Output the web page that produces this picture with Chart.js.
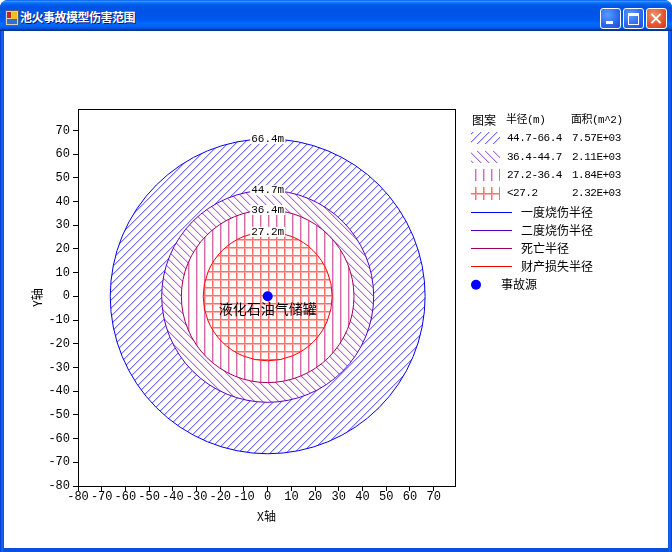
<!DOCTYPE html>
<html>
<head>
<meta charset="utf-8">
<script src="https://cdn.jsdelivr.net/npm/chart.js@4.4.1/dist/chart.umd.min.js"></script>
<style>
	body {margin:0; width:672px; height:552px; overflow:hidden; background:#fff; font-family:"Noto Sans CJK SC",sans-serif;}
	#win {position:absolute; left:0; top:0; width:672px; height:552px; background:linear-gradient(90deg,#0831d9,#166aee 2px,#0a4fe0 4px,#0a4fe0 668px,#166aee 670px,#0831d9); border-radius:8px 8px 0 0; overflow:hidden;}
	#bar {position:absolute; left:0; top:0; width:672px; height:31px; background:linear-gradient(#0058ee 0%,#3593ff 4%,#288eff 6%,#127dff 8%,#036ffc 10%,#0262ee 14%,#0057e5 20%,#0054e3 24%,#0055eb 56%,#005bf5 66%,#026afe 76%,#0062ef 86%,#0052d6 92%,#0040ab 94%,#003092 100%);}
	#title {position:absolute; left:20px; top:7px; color:#fff; font-weight:bold; font-size:12px; letter-spacing:-0.5px; line-height:20px; text-shadow:1px 1px #0a1883;}
	#icon {position:absolute; left:5px; top:10px; width:12px; height:14px; background:#d8d0b8; border:1px solid #506080;}
	#icon i {position:absolute; display:block;}
	.btn {position:absolute; top:8px; width:19px; height:19px; border:1px solid #fff; border-radius:3px; background:radial-gradient(circle at 35% 30%,#5a9cff,#2a66f0 60%,#1c4fd8);}
	.btn.x {background:radial-gradient(circle at 35% 30%,#f0906e,#e2532e 60%,#c73a18);}
	#client {position:absolute; left:4px; top:31px; width:664px; height:517px; background:#fff;}
</style>
</head>
<body>
<div id="win">
	<div id="bar">
		<div id="icon"><i style="left:1px;top:1px;width:4px;height:6px;background:#d02020"></i><i style="left:6px;top:1px;width:5px;height:7px;background:#f0c020"></i><i style="left:1px;top:8px;width:10px;height:5px;background:#3070d0"></i></div>
		<div id="title">池火事故模型伤害范围</div>
		<div class="btn" style="left:600px"><i style="position:absolute;left:5px;top:12px;width:7px;height:3px;background:#fff"></i></div>
		<div class="btn" style="left:623px"><i style="position:absolute;left:4px;top:4px;width:9px;height:8px;border:1px solid #fff;border-top-width:3px"></i></div>
		<div class="btn x" style="left:646px"><i style="position:absolute;left:8px;top:3px;width:2px;height:13px;background:#fff;transform:rotate(45deg)"></i><i style="position:absolute;left:8px;top:3px;width:2px;height:13px;background:#fff;transform:rotate(-45deg)"></i></div>
	</div>
	<div id="client"><canvas id="c" width="664" height="517"></canvas></div>
</div>
<script>
// damage radii (m), outer to inner
const radii = [66.4, 44.7, 36.4, 27.2]
const ranges = ['44.7-66.4', '36.4-44.7', '27.2-36.4', '<27.2']
const areas = ['7.57E+03', '2.11E+03', '1.84E+03', '2.32E+03']
const lineNames = ['一度烧伤半径', '二度烧伤半径', '死亡半径', '财产损失半径']
const xTicks = [-80, -70, -60, -50, -40, -30, -20, -10, 0, 10, 20, 30, 40, 50, 60, 70]
const yTicks = [-80, -70, -60, -50, -40, -30, -20, -10, 0, 10, 20, 30, 40, 50, 60, 70]
const source = [{x:0, y:0}]

const edge = ['#0000f0', '#5a00c0', '#a0005e', '#ff0000']
const mono = '"Liberation Mono","Noto Sans CJK SC",monospace'
const cjk = '"Noto Sans CJK SC",sans-serif'

// hatch tiles 8x8
const tile = f => { const c = document.createElement('canvas'); c.width = c.height = 8; f(c.getContext('2d')); return c }
const px = (g, col, pts) => { g.fillStyle = col; pts.forEach(([x, y]) => g.fillRect(x, y, 1, 1)) }
const tiles = [
	tile(g => { for (let i=0; i<8; i++) { px(g, '#c4c4ff', [[(i+1)%8, 7-i]]); px(g, '#7474f4', [[i, 7-i]]) } }),
	tile(g => { for (let i=0; i<8; i++) { px(g, '#e2c6f6', [[(i+1)%8, i]]); px(g, '#b070e0', [[i, i]]) } }),
	tile(g => { for (let i=0; i<8; i++) { px(g, '#f2bcdc', [[1, i]]); px(g, '#dc68ae', [[0, i]]) } }),
	tile(g => { for (let i=0; i<8; i++) { px(g, '#ffb8b8', [[1, i], [i, 1]]); px(g, '#ff7070', [[0, i], [i, 0]]) } }),
]

const rings = {
	id: 'rings',
	beforeDatasetsDraw: c => {
		const {ctx, chartArea:a, scales:{x, y}} = c
		const cx = x.getPixelForValue(0), cy = y.getPixelForValue(0)
		ctx.save()
		ctx.beginPath(); ctx.rect(a.left, a.top, a.width, a.height); ctx.clip()
		radii.forEach((r, i) => {
			ctx.beginPath()
			ctx.ellipse(cx, cy, x.getPixelForValue(r) - cx, cy - y.getPixelForValue(r), 0, 0, 2*Math.PI)
			ctx.fillStyle = '#fff'; ctx.fill()
			ctx.fillStyle = ctx.createPattern(tiles[i], 'repeat'); ctx.fill()
		})
		radii.forEach((r, i) => {
			ctx.beginPath()
			ctx.ellipse(cx, cy, x.getPixelForValue(r) - cx, cy - y.getPixelForValue(r), 0, 0, 2*Math.PI)
			ctx.strokeStyle = edge[i]; ctx.lineWidth = 1; ctx.stroke()
		})
		ctx.font = `11px ${mono}`; ctx.textAlign = 'center'; ctx.textBaseline = 'middle'
		radii.forEach(r => {
			const t = `${r}m`, w = ctx.measureText(t).width, ty = y.getPixelForValue(r)
			ctx.fillStyle = '#fff'; ctx.fillRect(cx - w/2 - 1, ty - 5, w + 2, 10)
			ctx.fillStyle = '#000'; ctx.fillText(t, cx, ty)
		})
		ctx.font = `14px ${cjk}`
		ctx.fillText('液化石油气储罐', cx, cy + 12)
		ctx.restore()
	},
	afterDraw: c => {
		const {ctx, chartArea:a} = c
		ctx.save()
		ctx.strokeStyle = '#000'; ctx.lineWidth = 1
		ctx.strokeRect(Math.round(a.left) + .5, Math.round(a.top) + .5, Math.round(a.width), Math.round(a.height))

		// legend
		const L = a.right + 17, row = i => a.top + 11 + 18.3*i
		ctx.textBaseline = 'middle'; ctx.textAlign = 'left'; ctx.fillStyle = '#000'
		ctx.font = `12px ${cjk}`; ctx.fillText('图案', L, row(0))
		ctx.font = `11px ${mono}`; ctx.letterSpacing = '-0.5px'
		ctx.fillText('半径(m)', L + 34, row(0)); ctx.fillText('面积(m^2)', L + 99, row(0))
		ranges.forEach((t, i) => {
			const yy = Math.round(row(i + 1))
			const p = ctx.createPattern(tiles[i], 'repeat')
			p.setTransform(new DOMMatrix().translate(L + 3, yy))
			ctx.fillStyle = p; ctx.fillRect(L - 1, yy - 6, 29, i == 3 ? 13 : 12)
			ctx.fillStyle = '#000'; ctx.fillText(t, L + 35, yy); ctx.fillText(areas[i], L + 100, yy)
		})
		ctx.letterSpacing = '0px'
		ctx.font = `12px ${cjk}`
		lineNames.forEach((t, i) => {
			const yy = Math.round(row(i + 5)) + .5
			ctx.strokeStyle = edge[i]; ctx.beginPath(); ctx.moveTo(L - 1, yy); ctx.lineTo(L + 40, yy); ctx.stroke()
			ctx.fillStyle = '#000'; ctx.fillText(t, L + 49, yy)
		})
		const dy = row(9)
		ctx.fillStyle = '#0000ff'; ctx.beginPath(); ctx.arc(L + 4, dy, 5, 0, 2*Math.PI); ctx.fill()
		ctx.fillStyle = '#000'; ctx.fillText('事故源', L + 29, dy)
		ctx.restore()
	}
}

const tickFont = {family:mono, size:12}
const axis = (ticks, fit, title, pad) => ({
	type: 'linear', min: -80, max: 79,
	afterBuildTicks: s => { s.ticks = ticks.map(v => ({value:v})) },
	afterFit: fit,
	ticks: {color:'#000', font:tickFont, padding:pad, maxRotation:0, autoSkip:false},
	grid: {drawOnChartArea:false, color:'#000', tickColor:'#000', tickLength:5},
	border: {color:'#000'},
	title: {display:true, text:title, color:'#000', font:{family:cjk, size:12}, padding:2},
})

new Chart(document.getElementById('c'), {
	type: 'scatter',
	data: {
		datasets: [{
			label: '事故源',
			data: source,
			pointRadius: 5,
			pointHoverRadius: 5,
			backgroundColor: '#0000ff',
			borderWidth: 0,
		}]
	},
	options: {
		responsive: false,
		animation: false,
		devicePixelRatio: 1,
		layout: {padding:{left:24, top:78, right:213, bottom:22}},
		scales: {
			x: axis(xTicks, s => { s.height = 40 }, 'X轴', -1),
			y: axis(yTicks, s => { s.width = 50 }, 'Y轴', 3),
		},
		plugins: {
			legend: {display:false},
			tooltip: {enabled:false},
		},
	},
	plugins: [rings],
})
</script>
</body>
</html>
